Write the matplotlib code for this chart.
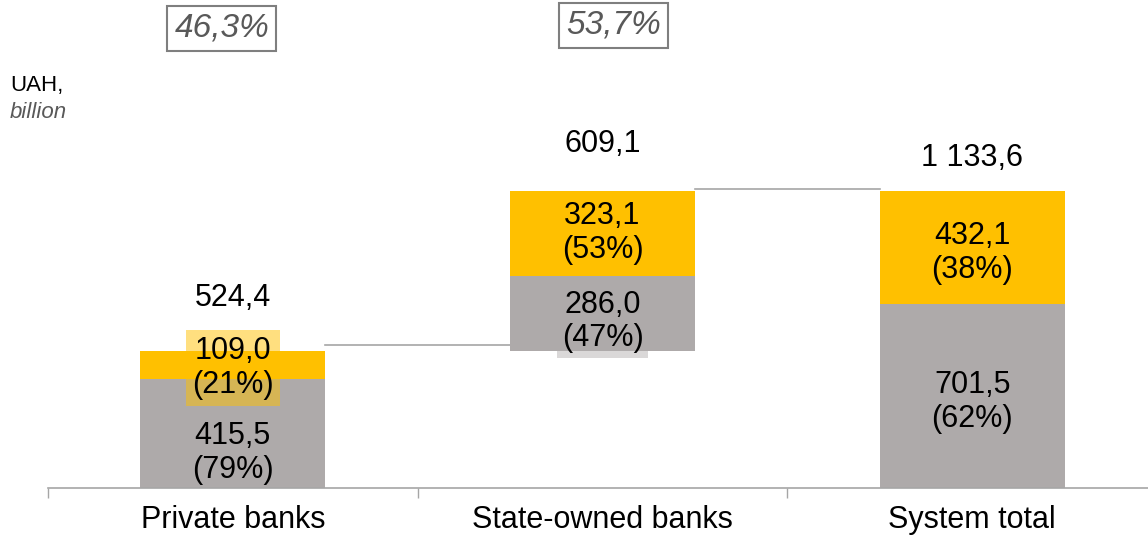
import matplotlib.pyplot as plt

plt.rcParams['font.family'] = ['Liberation Sans', 'DejaVu Sans']

# Date (mld. UAH)
categorii = ["Private banks", "State-owned banks", "System total"]
gri = [415.5, 286.0, 701.5]
galben = [109.0, 323.1, 432.1]
totaluri = [524.4, 609.1, 1133.6]
proc_gri = [79, 47, 62]
proc_galben = [21, 53, 38]
cote = ["46,3%", "53,7%"]

# baza barelor (waterfall)
baze = [0, totaluri[0], 0]

GALBEN = '#FFC000'
GRI = '#AEAAAA'
LINIE = '#A6A6A6'


def fmt(v):
    s = f"{v:,.1f}".replace(',', ' ').replace('.', ',')
    return s


fig = plt.figure(figsize=(11.48, 5.38), dpi=100)
ax = fig.add_axes([48 / 1148, 50 / 538, 1109 / 1148, 488 / 538])

x = list(range(len(categorii)))
latime = 0.5
ax.bar(x, gri, width=latime, bottom=baze, color=GRI, zorder=2)
sus_gri = [b + g for b, g in zip(baze, gri)]
ax.bar(x, galben, width=latime, bottom=sus_gri, color=GALBEN, zorder=2)

# etichete in segmente (decalaj vertical in puncte)
dec_gri = [-14, -6, -4]
dec_gal = [-2, 0, -4]
for i in x:
    yg = baze[i] + gri[i] / 2
    yy = sus_gri[i] + galben[i] / 2
    t_gri = ax.annotate(f"{fmt(gri[i])}\n({proc_gri[i]}%)", (i, yg), xytext=(0, dec_gri[i]),
                        textcoords='offset points', ha='center', va='center',
                        fontsize=22, color='black', zorder=4, linespacing=1.17)
    t_gal = ax.annotate(f"{fmt(galben[i])}\n({proc_galben[i]}%)", (i, yy), xytext=(0, dec_gal[i]),
                        textcoords='offset points', ha='center', va='center',
                        fontsize=22, color='black', zorder=4, linespacing=1.17)
    if i == 0:
        t_gal.set_bbox(dict(boxstyle='square,pad=0.2', facecolor=GALBEN, alpha=0.5,
                            edgecolor='none'))
    if i == 1:
        t_gri.set_bbox(dict(boxstyle='square,pad=0.15', facecolor=GRI, alpha=0.45,
                            edgecolor='none'))

# totaluri deasupra
dist_total = [38, 34, 24]
for i in x:
    ax.annotate(fmt(totaluri[i]), (i, baze[i] + totaluri[i]), xytext=(0, dist_total[i]),
                textcoords='offset points', ha='center', va='center', fontsize=22)

# linii de legatura
ridicare = [22, 8]
nivele = [totaluri[0], baze[1] + totaluri[1]]
for k in range(2):
    ax.plot([k + latime / 2, k + 1 - latime / 2], [nivele[k] + ridicare[k]] * 2,
            color=LINIE, lw=1.2, zorder=1)

# cotele de piata (casute sus)
decalaj = [-0.03, 0.03]
inaltime = [1755, 1767]
for k in range(2):
    ax.text(k + decalaj[k], inaltime[k], cote[k], ha='center', va='center', fontsize=24,
            style='italic', color='#595959',
            bbox=dict(boxstyle='square,pad=0.21', facecolor='white', edgecolor='#7F7F7F', lw=1.5))

ax.set_xlim(-0.5, 2.5)
ax.set_ylim(0, 1863)
for s in ['top', 'right', 'left']:
    ax.spines[s].set_visible(False)
ax.spines['bottom'].set_color(LINIE)
ax.spines['bottom'].set_linewidth(1.2)
ax.set_yticks([])
ax.set_xticks([-0.5, 0.5, 1.5, 2.5])
ax.set_xticklabels([])
ax.tick_params(axis='x', which='major', direction='out', length=7, color=LINIE, width=1)
ax.set_xticks(x, minor=True)
ax.set_xticklabels(categorii, minor=True, fontsize=22)
ax.tick_params(axis='x', which='minor', length=0, pad=12)

fig.text(10 / 1148, 1 - 85 / 538, "UAH,", fontsize=16, va='center', ha='left')
fig.text(10 / 1148, 1 - 112 / 538, "billion", fontsize=16, va='center', ha='left',
         style='italic', color='#595959')

fig.savefig('out.png', dpi=100)
